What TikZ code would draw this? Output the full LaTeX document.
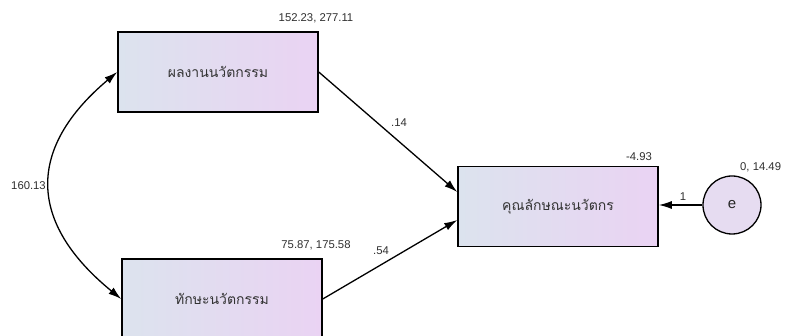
\documentclass[tikz,border=0pt]{standalone}
\usepackage{fontspec}
\setmainfont{Liberation Sans}
\newfontfamily\thaifont[Script=Thai]{Loma}
\usetikzlibrary{arrows.meta}
\definecolor{boxleft}{HTML}{DCE3EE}
\definecolor{boxright}{HTML}{EAD3F3}
\definecolor{circfill}{HTML}{E6DCF1}
\definecolor{numcol}{HTML}{303030}
\tikzset{
  varbox/.style={draw=black, line width=1.5pt, minimum width=200pt, minimum height=80pt,
    left color=boxleft, right color=boxright, font=\thaifont\fontsize{14}{16}\selectfont, text=black!80},
  errcirc/.style={draw=black, line width=1.3pt, circle, minimum size=58pt, fill=circfill,
    font=\fontsize{15}{17}\selectfont, text=black!85},
  num/.style={font=\fontsize{11.3}{13}\selectfont, text=numcol, inner sep=0pt},
  path/.style={line width=1.3pt, -{Latex[length=13pt,width=8pt]}},
  cov/.style={line width=1.3pt, {Latex[length=13pt,width=8pt]}-{Latex[length=13pt,width=8pt]}}
}
\begin{document}
\begin{tikzpicture}[x=1pt, y=-1pt]
  \useasboundingbox (0,0) rectangle (787,336);
  \clip (0,0) rectangle (787,336);
  \fill[white] (0,0) rectangle (787,336);

  % observed variables
  \node[varbox] (perf) at (218,72) {ผลงานนวัตกรรม};
  \node[varbox] (skill) at (222,299) {ทักษะนวัตกรรม};
  \node[varbox] (trait) at (558,206.5) {คุณลักษณะนวัตกร};
  % error term
  \node[errcirc] (err) at (732,205) {e};

  % regression paths
  \draw[path] (perf.east) -- (trait.west |- 0,192);
  \draw[path] (skill.east) -- (trait.west |- 0,220);
  \draw[path] (err.west) -- (trait.east |- err.west);

  % covariance
  \draw[cov] (perf.west) .. controls (27,148) and (27,222) .. (skill.west);

  % estimates
  \node[num] (l1) at (316,18) {152.23, 277.11};
  \node[num] (l2) at (316,245) {75.87, 175.58};
  \node[num] (l3) at (639,157) {-4.93};
  \node[num, anchor=west] (l4) at (740,167) {0, 14.49};
  \node[num] (l5) at (683,197) {1};
  \node[num] (l6) at (28.5,186) {160.13};
  \node[num] (l7) at (399,123) {.14};
  \node[num] (l8) at (381,251) {.54};
\end{tikzpicture}
\end{document}
